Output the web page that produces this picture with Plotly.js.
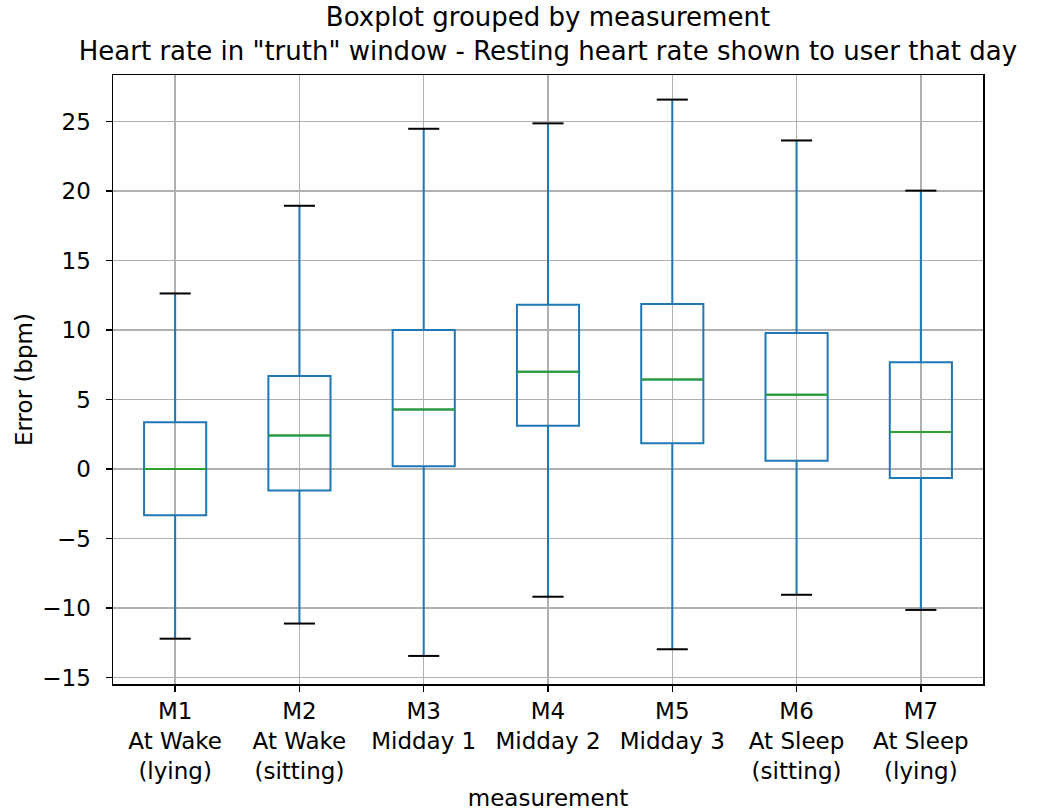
<!DOCTYPE html>
<html>
<head>
<meta charset="utf-8">
<script src="https://cdn.plot.ly/plotly-3.0.1.min.js"></script>
<style>html,body{margin:0;padding:0;background:#fff;}#chart{width:1064px;height:812px;}</style>
</head>
<body>
<div id="chart"></div>
<script>
const categories = ["M1<br>At Wake<br>(lying)", "M2<br>At Wake<br>(sitting)", "M3<br>Midday 1", "M4<br>Midday 2", "M5<br>Midday 3", "M6<br>At Sleep<br>(sitting)", "M7<br>At Sleep<br>(lying)"];
const q1Values = [-3.33, -1.54, 0.2, 3.11, 1.85, 0.59, -0.64];
const medianValues = [0.0, 2.41, 4.29, 7.0, 6.44, 5.35, 2.66];
const q3Values = [3.36, 6.69, 10.0, 11.82, 11.88, 9.78, 7.68];
const lowerWhisker = [-12.21, -11.12, -13.45, -9.19, -12.97, -9.05, -10.14];
const upperWhisker = [12.63, 18.94, 24.48, 24.87, 26.58, 23.64, 20.03];
const yTicks = [-15, -10, -5, 0, 5, 10, 15, 20, 25];

const positions = categories.map((_, i) => i + 1);
const boxWidth = 0.5;
const capHalf = boxWidth / 4;
const medHalf = boxWidth / 2;

const boxTrace = {
  type: 'box',
  x: positions,
  q1: q1Values,
  median: medianValues,
  q3: q3Values,
  lowerfence: lowerWhisker,
  upperfence: upperWhisker,
  width: boxWidth,
  whiskerwidth: 0,
  boxpoints: false,
  fillcolor: 'rgba(0,0,0,0)',
  line: {color: '#1f77b4', width: 2},
  hoverinfo: 'skip',
  showlegend: false
};

function segs(values, half) {
  const xs = [], ys = [];
  values.forEach((v, i) => {
    xs.push(positions[i] - half, positions[i] + half, null);
    ys.push(v, v, null);
  });
  return {xs, ys};
}
const medS = segs(medianValues, medHalf);
const capU = segs(upperWhisker, capHalf);
const capL = segs(lowerWhisker, capHalf);

const medianTrace = {type: 'scatter', mode: 'lines', x: medS.xs, y: medS.ys, line: {color: '#2ca02c', width: 2}, hoverinfo: 'skip', showlegend: false};
const capTrace = {type: 'scatter', mode: 'lines', x: capU.xs.concat(capL.xs), y: capU.ys.concat(capL.ys), line: {color: '#000000', width: 2}, hoverinfo: 'skip', showlegend: false};

const font = 'DejaVu Sans, sans-serif';
const layout = {
  width: 1064, height: 812,
  margin: {l: 113, r: 81, t: 75, b: 128},
  paper_bgcolor: '#fff', plot_bgcolor: '#fff',
  font: {family: font, size: 23, color: '#000'},
  title: {
    text: 'Boxplot grouped by measurement<br>Heart rate in "truth" window - Resting heart rate shown to user that day',
    x: 0.515, xanchor: 'center', y: 0.968, yanchor: 'top',
    font: {family: font, size: 26, color: '#000'}
  },
  xaxis: {
    range: [0.5, 7.5],
    tickvals: positions, ticktext: categories,
    showgrid: true, gridcolor: '#b0b0b0', gridwidth: 1.4,
    zeroline: false,
    showline: true, linecolor: '#000', linewidth: 1.5, mirror: true,
    ticks: 'outside', ticklen: 6, tickwidth: 1.5, tickcolor: '#000',
    tickfont: {family: font, size: 23, color: '#000'},
    title: {text: 'measurement', font: {family: font, size: 23, color: '#000'}, standoff: 7}
  },
  yaxis: {
    range: [-15.47, 28.35],
    tickvals: yTicks,
    showgrid: true, gridcolor: '#b0b0b0', gridwidth: 1.4,
    zeroline: false,
    showline: true, linecolor: '#000', linewidth: 1.5, mirror: true,
    ticks: 'outside', ticklen: 6, tickwidth: 1.5, tickcolor: '#000',
    ticklabelstandoff: 10,
    tickfont: {family: font, size: 23, color: '#000'},
    title: {text: 'Error (bpm)', font: {family: font, size: 23, color: '#000'}, standoff: 3}
  }
};

Plotly.newPlot('chart', [boxTrace, medianTrace, capTrace], layout, {displayModeBar: false, staticPlot: true});
</script>
</body>
</html>
